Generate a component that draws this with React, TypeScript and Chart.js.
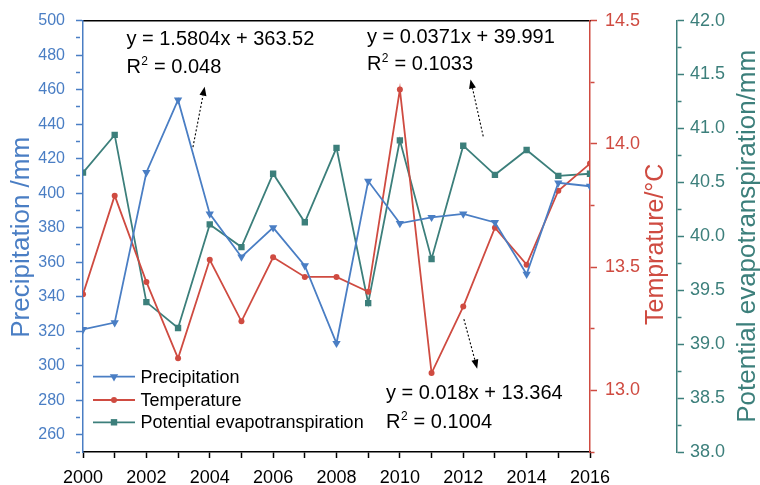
import React, { useEffect, useRef } from 'react';
import { Chart, registerables } from 'chart.js';

Chart.register(...registerables);

// ---------- data ----------
const years = [2000, 2001, 2002, 2003, 2004, 2005, 2006, 2007, 2008, 2009, 2010, 2011, 2012, 2013, 2014, 2015, 2016];
const precipitation = [321, 325, 412, 454, 388, 363, 380, 358, 313, 407, 382.5, 386, 388, 383, 353, 406, 404];
const temperature = [13.39, 13.79, 13.44, 13.13, 13.53, 13.28, 13.54, 13.46, 13.46, 13.40, 14.22, 13.07, 13.34, 13.66, 13.51, 13.81, 13.92];
const evapotranspiration = [40.59, 40.94, 39.39, 39.15, 40.11, 39.90, 40.58, 40.13, 40.82, 39.38, 40.89, 39.79, 40.84, 40.57, 40.80, 40.56, 40.58];

const seriesNames = ['Precipitation', 'Temperature', 'Potential evapotranspiration'];
const axisTitles = ['Precipitation /mm', 'Temprature/\u00B0C', 'Potential evapotranspiration/mm'];
const fitEquations = ['y = 1.5804x + 363.52', 'y = 0.0371x + 39.991', 'y = 0.018x + 13.364'];
const fitR2 = ['0.048', '0.1033', '0.1004'];

// annotation anchors in data units (x: year, y: precipitation axis)
const fitTextAnchors = [
  { x: 2001.37, y1: 485.8, y2: 469.7 },
  { x: 2008.96, y1: 487.0, y2: 471.4 },
  { x: 2009.56, y1: 280.5, y2: 264.1 },
];
const fitArrows = [
  { x0: 2003.47, y0: 426.7, x1: 2003.84, y1: 461.7 },
  { x0: 2012.63, y0: 432.9, x1: 2012.23, y1: 465.9 },
  { x0: 2012.02, y0: 327.0, x1: 2012.44, y1: 298.3 },
];

// ---------- styles ----------
const BLUE = '#4a7ec4';
const RED = '#cf4b41';
const TEAL = '#3c7f7b';
const FONT = '"Liberation Sans", Arial, Helvetica, sans-serif';
const colors = [BLUE, RED, TEAL];
const markers = ['tri', 'circle', 'square'];

function drawMarker(ctx: CanvasRenderingContext2D, kind: string, x: number, y: number, color: string) {
  ctx.save();
  ctx.fillStyle = color;
  ctx.beginPath();
  if (kind === 'tri') {
    const r = 4.8;
    ctx.moveTo(x, y + r);
    ctx.lineTo(x - r * 0.866, y - r * 0.5);
    ctx.lineTo(x + r * 0.866, y - r * 0.5);
    ctx.closePath();
  } else if (kind === 'circle') {
    ctx.arc(x, y, 3, 0, Math.PI * 2);
  } else {
    ctx.rect(x - 3.2, y - 3.2, 6.4, 6.4);
  }
  ctx.fill();
  ctx.restore();
}

function isMult(v: number, step: number) {
  const q = v / step;
  return Math.abs(q - Math.round(q)) < 1e-6;
}

function line(ctx: CanvasRenderingContext2D, x0: number, y0: number, x1: number, y1: number, color: string, w: number) {
  ctx.save();
  ctx.setLineDash([]);
  ctx.strokeStyle = color;
  ctx.lineWidth = w;
  ctx.beginPath();
  ctx.moveTo(x0, y0);
  ctx.lineTo(x1, y1);
  ctx.stroke();
  ctx.restore();
}

const decorPlugin = {
  id: 'decor',
  afterDraw(chart: any) {
    const ctx: CanvasRenderingContext2D = chart.ctx;
    const area = chart.chartArea;
    const sx = chart.scales.x;
    const sP = chart.scales.yP;
    const sT = chart.scales.yT;
    const sE = chart.scales.yE;
    ctx.save();

    // axis titles
    const title = (text: string, cx: number, cy: number, color: string, size: number) => {
      ctx.save();
      ctx.translate(cx, cy);
      ctx.rotate(-Math.PI / 2);
      ctx.fillStyle = color;
      ctx.font = `${size}px ${FONT}`;
      ctx.textAlign = 'center';
      ctx.textBaseline = 'middle';
      ctx.fillText(text, 0, 0);
      ctx.restore();
    };
    const midY = (area.top + area.bottom) / 2;
    title(axisTitles[0], sP.left + 22, midY + 1, BLUE, 26);
    title(axisTitles[1], sT.left + 66.5, midY + 8, RED, 25);
    title(axisTitles[2], sE.left + 70.5, midY, TEAL, 26);

    // legend
    const rowsY = [area.bottom - 75.3, area.bottom - 52, area.bottom - 29.7];
    ctx.font = `18px ${FONT}`;
    ctx.textBaseline = 'middle';
    ctx.textAlign = 'left';
    seriesNames.forEach((name, i) => {
      const y = rowsY[i];
      line(ctx, area.left + 10, y, area.left + 52, y, colors[i], 1.8);
      drawMarker(ctx, markers[i], area.left + 31, y, colors[i]);
      ctx.fillStyle = '#000';
      ctx.fillText(name, area.left + 57.5, y + 1);
    });

    // fit equations
    ctx.fillStyle = '#000';
    ctx.textBaseline = 'alphabetic';
    fitEquations.forEach((eq, i) => {
      const a = fitTextAnchors[i];
      const x = sx.getPixelForValue(a.x);
      const y1 = sP.getPixelForValue(a.y1);
      const y2 = sP.getPixelForValue(a.y2);
      ctx.font = `20px ${FONT}`;
      ctx.fillText(eq, x, y1);
      ctx.fillText('R', x, y2);
      const w = ctx.measureText('R').width;
      ctx.font = `12px ${FONT}`;
      ctx.fillText('2', x + w + 0.5, y2 - 8);
      const w2 = ctx.measureText('2').width;
      ctx.font = `20px ${FONT}`;
      ctx.fillText(' = ' + fitR2[i], x + w + w2 + 1, y2);
    });

    // arrows
    fitArrows.forEach((ar) => {
      const x0 = sx.getPixelForValue(ar.x0);
      const y0 = sP.getPixelForValue(ar.y0);
      const x1 = sx.getPixelForValue(ar.x1);
      const y1 = sP.getPixelForValue(ar.y1);
      const ang = Math.atan2(y1 - y0, x1 - x0);
      const headLen = 9;
      const hx = x1 - headLen * Math.cos(ang);
      const hy = y1 - headLen * Math.sin(ang);
      ctx.save();
      ctx.strokeStyle = '#000';
      ctx.lineWidth = 1.1;
      ctx.setLineDash([2, 2]);
      ctx.beginPath();
      ctx.moveTo(x0, y0);
      ctx.lineTo(hx, hy);
      ctx.stroke();
      ctx.restore();
      ctx.fillStyle = '#000';
      ctx.beginPath();
      ctx.moveTo(x1, y1);
      ctx.lineTo(hx + 3.5 * Math.sin(ang), hy - 3.5 * Math.cos(ang));
      ctx.lineTo(hx - 3.5 * Math.sin(ang), hy + 3.5 * Math.cos(ang));
      ctx.closePath();
      ctx.fill();
    });
    ctx.restore();
  },
};

function tickGrid(color: string, majorStep: number, len: number, minorLen: number) {
  return {
    display: true,
    drawOnChartArea: false,
    drawTicks: true,
    tickLength: len,
    tickWidth: 1.5,
    tickColor: color,
    tickBorderDash: (c: any) => (c.tick && isMult(c.tick.value, majorStep) ? [] : [minorLen, 60]),
  };
}

export default function App() {
  const ref = useRef<HTMLCanvasElement | null>(null);
  useEffect(() => {
    document.body.style.margin = '0';
    const canvas = ref.current;
    if (!canvas) return;
    const mk = (vals: number[]) => years.map((x, i) => ({ x, y: vals[i] }));
    const tickFont = (size: number) => ({ family: FONT, size });
    const chart = new Chart(canvas, {
      type: 'line',
      data: {
        datasets: [
          {
            label: seriesNames[0], data: mk(precipitation), yAxisID: 'yP', xAxisID: 'x',
            borderColor: BLUE, backgroundColor: BLUE, borderWidth: 1.8,
            pointStyle: 'triangle', pointRotation: 180, pointRadius: 4.8, pointBorderWidth: 0, tension: 0,
          },
          {
            label: seriesNames[1], data: mk(temperature), yAxisID: 'yT', xAxisID: 'x',
            borderColor: RED, backgroundColor: RED, borderWidth: 1.8,
            pointStyle: 'circle', pointRadius: 3, pointBorderWidth: 0, tension: 0,
          },
          {
            label: seriesNames[2], data: mk(evapotranspiration), yAxisID: 'yE', xAxisID: 'x',
            borderColor: TEAL, backgroundColor: TEAL, borderWidth: 1.8,
            pointStyle: 'rect', pointRadius: 4.5, pointBorderWidth: 0, tension: 0,
          },
        ],
      },
      options: {
        responsive: false,
        animation: false,
        devicePixelRatio: 1,
        events: [],
        layout: { padding: 0 },
        plugins: { legend: { display: false }, tooltip: { enabled: false } },
        scales: {
          x: {
            type: 'linear', position: 'bottom', min: 2000, max: 2016,
            grid: tickGrid('#000', 2, 6, 6),
            border: { display: true, color: '#000', width: 1.5 },
            ticks: {
              stepSize: 1, autoSkip: false, maxRotation: 0, padding: 9, color: '#000',
              font: tickFont(18), maxTicksLimit: 100,
              callback: (v: any) => (isMult(Number(v), 2) ? String(v) : ''),
            },
            afterFit: (s: any) => { s.height = 33; },
          },
          xTop: {
            type: 'linear', position: 'top', min: 2000, max: 2016,
            grid: { display: false, drawTicks: false },
            border: { display: true, color: '#000', width: 1.5 },
            ticks: { display: false },
            afterFit: (s: any) => { s.height = 17; },
          },
          yP: {
            type: 'linear', position: 'left', min: 250, max: 500,
            grid: tickGrid(BLUE, 20, 7, 4),
            border: { display: true, color: BLUE, width: 1.5 },
            ticks: {
              stepSize: 10, autoSkip: false, padding: 11, color: BLUE, font: tickFont(16), maxTicksLimit: 100,
              callback: (v: any) => (isMult(Number(v), 20) ? String(v) : ''),
            },
            afterFit: (s: any) => { s.width = 83; },
          },
          yT: {
            type: 'linear', position: 'right', min: 12.75, max: 14.5, weight: 1,
            grid: tickGrid(RED, 0.5, 7, 4),
            border: { display: true, color: RED, width: 1.5 },
            ticks: {
              stepSize: 0.25, autoSkip: false, padding: 8, color: RED, font: tickFont(18), maxTicksLimit: 100,
              callback: (v: any) => (isMult(Number(v), 0.5) ? Number(v).toFixed(1) : ''),
            },
            afterFit: (s: any) => { s.width = 87; },
          },
          yE: {
            type: 'linear', position: 'right', min: 38, max: 42, weight: 2,
            grid: tickGrid(TEAL, 0.5, 7, 4),
            border: { display: true, color: TEAL, width: 1.5 },
            ticks: {
              stepSize: 0.25, autoSkip: false, padding: 6, color: TEAL, font: tickFont(18), maxTicksLimit: 100,
              callback: (v: any) => (isMult(Number(v), 0.5) ? Number(v).toFixed(1) : ''),
            },
            afterFit: (s: any) => { s.width = 83; },
          },
        },
      } as any,
      plugins: [decorPlugin],
    });
    return () => chart.destroy();
  }, []);
  return (
    <div style={{ width: 760, height: 485, background: '#fff' }}>
      <canvas ref={ref} width={760} height={485} style={{ display: 'block' }} />
    </div>
  );
}
